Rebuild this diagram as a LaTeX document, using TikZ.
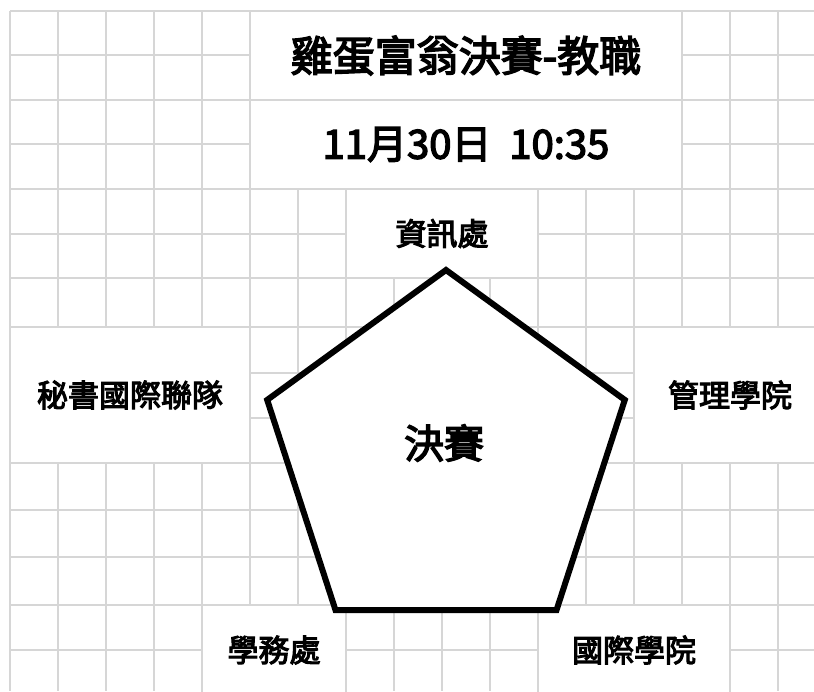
\documentclass[tikz,border=0pt]{standalone}
\usepackage{fontspec}
\setmainfont{Noto Sans CJK TC}[FakeBold=3.5]
\usepackage{tikz, xcolor}
\definecolor{gridgray}{RGB}{214,214,214}

\begin{document}
\begin{tikzpicture}[x=1pt, y=-1pt,
    gridline/.style={gridgray, line width=2pt},
    merged/.style={draw=gridgray, line width=2pt, fill=white, inner sep=0pt},
    headfont/.style={font=\fontsize{42}{48}\selectfont},
    cellfont/.style={font=\fontsize{31}{36}\selectfont}]
    \useasboundingbox [fill=white] (0,0) rectangle (814,691);

    % sheet grid
    \foreach \gx in {10,58,...,778}
        \draw [gridline] (\gx,11) -- (\gx,691);
    \foreach \gy in {11,55,100,144,189,234,278,327,373,418,463,510,557,605,650}
        \draw [gridline] (10,\gy) -- (814,\gy);

    % merged cells
    \node [merged, headfont, minimum width=432pt, minimum height=89pt] (title) at (466,55.5) {雞蛋富翁決賽-教職};
    \node [merged, font=\fontsize{40}{46}\selectfont, minimum width=432pt, minimum height=89pt] (date) at (466,144.5) {11月30日\ \ 10:35};
    \node [merged, cellfont, minimum width=192pt, minimum height=89pt] (info) at (442,233.5) {資訊處};
    \node [merged, cellfont, minimum width=240pt, minimum height=136pt] (secretary) at (130,395) {秘書國際聯隊};
    \node [merged, cellfont, minimum width=192pt, minimum height=136pt] (management) at (730,395) {管理學院};
    \node [merged, cellfont, minimum width=144pt, minimum height=90pt] (student) at (274,650) {學務處};
    \node [merged, cellfont, minimum width=192pt, minimum height=90pt] (international) at (634,650) {國際學院};

    % pentagon
    \coordinate (p1) at (446,270);
    \coordinate (p2) at (624.8,399.9);
    \coordinate (p3) at (556.5,610.1);
    \coordinate (p4) at (335.5,610.1);
    \coordinate (p5) at (267.2,399.9);
    \draw [black, line width=6pt, fill=white, line join=miter] (p1) -- (p2) -- (p3) -- (p4) -- (p5) -- cycle;
    \node [font=\fontsize{40}{46}\selectfont] (final) at (444,443) {決賽};
\end{tikzpicture}
\end{document}
